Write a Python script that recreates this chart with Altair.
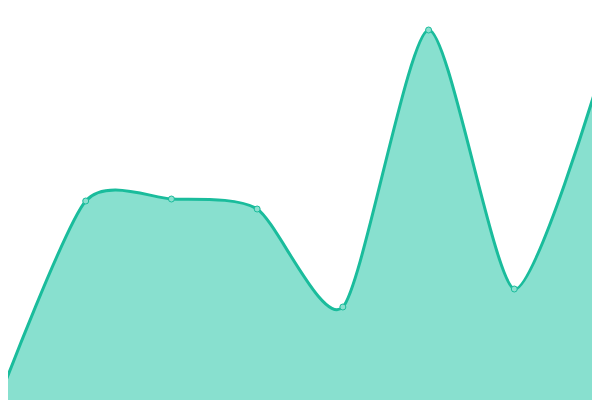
import altair as alt
import pandas as pd

xs = [0, 1, 2, 3, 4, 5, 6, 7]
values = [4, 199, 201, 191, 93, 370, 111, 325]

df = pd.DataFrame({"x": xs, "v": values})

xscale = alt.Scale(domain=[0, 7], nice=False, zero=False)
yscale = alt.Scale(domain=[0, 400], nice=False)

base = alt.Chart(df).encode(
    x=alt.X("x:Q", scale=xscale, axis=None),
    y=alt.Y("v:Q", scale=yscale, axis=None),
)

area = base.mark_area(
    interpolate="cardinal",
    tension=0.3,
    fill="#88e0cf",
    fillOpacity=1,
    line={"color": "#1abc9c", "strokeWidth": 3},
)

points = base.mark_point(
    filled=True,
    size=36,
    fill="#8be0cf",
    stroke="#1abc9c",
    strokeWidth=1,
    opacity=1,
)

chart = (
    (area + points)
    .properties(
        width=600,
        height=400,
        autosize=alt.AutoSizeParams(type="none"),
        padding={"left": -8, "top": -8, "right": -8, "bottom": 0},
    )
    .configure_view(stroke=None)
)

chart.save("out.html", embed_options={"renderer": "svg", "actions": False})
